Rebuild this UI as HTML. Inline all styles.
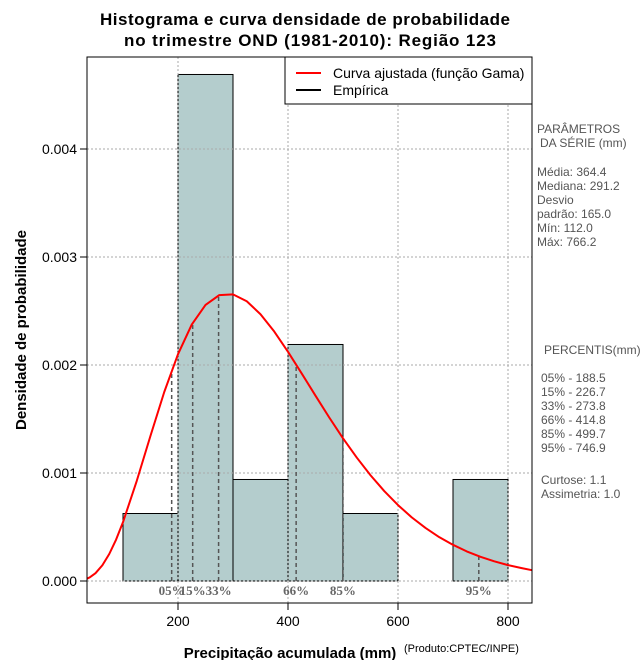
<!DOCTYPE html>
<html><head><meta charset="utf-8"><style>
body{margin:0;background:#fff;width:640px;height:660px;overflow:hidden}
svg{font-family:"Liberation Sans",sans-serif}
</style></head><body>
<svg id="c" width="640" height="660" xmlns="http://www.w3.org/2000/svg">
<text x="305" y="25" text-anchor="middle" font-size="17" font-weight="bold" textLength="410">Histograma e curva densidade de probabilidade</text>
<text x="310" y="46" text-anchor="middle" font-size="17" font-weight="bold" textLength="372">no trimestre OND (1981-2010): Região 123</text>
<g id="grid"></g>
<g id="bars"></g>
<g id="gridTop"></g>
<g id="pct"></g>
<g id="curve"></g>
<rect x="87" y="57" width="445" height="546" fill="none" stroke="#000"/>
<g id="axes"></g>
<g>
<rect x="285" y="57" width="247" height="47" fill="#fff" stroke="#000"/>
<line x1="296" y1="73" x2="321" y2="73" stroke="#f00" stroke-width="2"/>
<text x="333" y="78" font-size="14">Curva ajustada (função Gama)</text>
<line x1="296" y1="90" x2="321" y2="90" stroke="#000" stroke-width="2"/>
<text x="333" y="95" font-size="14">Empírica</text>
</g>
<text x="290" y="658" text-anchor="middle" font-size="15" font-weight="bold">Precipitação acumulada (mm)</text>
<text x="404" y="652" font-size="11">(Produto:CPTEC/INPE)</text>
<text transform="translate(26,330) rotate(-90)" text-anchor="middle" font-size="15" font-weight="bold">Densidade de probabilidade</text>
<g font-size="12" fill="#555" style="white-space:pre">
<text x="537" y="133">PARÂMETROS</text><text x="540" y="147">DA SÉRIE (mm)</text>
<text x="537" y="176">Média:  364.4</text><text x="537" y="190">Mediana:  291.2</text>
<text x="537" y="204">Desvio</text><text x="537" y="218">padrão:  165.0</text>
<text x="537" y="232">Mín:  112.0</text><text x="537" y="246">Máx:  766.2</text>
<text x="544" y="354">PERCENTIS(mm)</text>
<text x="541" y="382">05% -  188.5</text><text x="541" y="396">15% -  226.7</text>
<text x="541" y="410">33% -  273.8</text><text x="541" y="424">66% -  414.8</text>
<text x="541" y="438">85% -  499.7</text><text x="541" y="452">95% -  746.9</text>
<text x="541" y="484">Curtose:  1.1</text><text x="541" y="498">Assimetria:  1.0</text>
</g>
</svg>
<script>
const binStarts=[100,200,300,400,500,600,700];
const binDensity=[0.000625,0.00469,0.00094,0.00219,0.000625,0,0.00094];
const curveX=[34.5,40,50,62.5,75,87.5,100,125,150,175,200,225,250,275,300,325,350,375,400,425,450,475,500,525,550,575,600,625,650,675,700,725,750,775,800,825,843.6];
const curveY=[0.0000212,0.0000349,0.0000724,0.000146,0.00025,0.000384,0.000545,0.000927,0.001345,0.00175,0.0021,0.002374,0.002556,0.002647,0.002654,0.00259,0.00247,0.00231,0.002122,0.001921,0.001716,0.001514,0.001321,0.001143,0.000979,0.000833,0.000703,0.000589,0.000491,0.000406,0.000335,0.000274,0.000224,0.000182,0.000147,0.000119,0.0001];
const pctLabels=["05%","15%","33%","66%","85%","95%"];
const pctValues=[188.5,226.7,273.8,414.8,499.7,746.9];
const xTicks=[200,400,600,800];
const yTicks=[0,0.001,0.002,0.003,0.004];
const yTickLabels=["0.000","0.001","0.002","0.003","0.004"];
const binWidth=100;
const X=v=>68+v*0.55, Y=v=>581-v*108000;
const NS="http://www.w3.org/2000/svg";
function mk(p,t,a){const e=document.createElementNS(NS,t);for(const k in a)e.setAttribute(k,a[k]);document.getElementById(p).appendChild(e);return e;}
function interp(x){for(let i=0;i<curveX.length-1;i++){if(x>=curveX[i]&&x<=curveX[i+1]){const t=(x-curveX[i])/(curveX[i+1]-curveX[i]);return curveY[i]+t*(curveY[i+1]-curveY[i]);}}return 0;}
xTicks.forEach(v=>{const g=mk('gridTop','line',{x1:X(v),x2:X(v),y1:57,y2:603,stroke:'#aaa','stroke-dasharray':'2,2'});

});
yTicks.forEach(v=>{const g=mk('gridTop','line',{x1:87,x2:532,y1:Y(v),y2:Y(v),stroke:'#aaa','stroke-dasharray':'2,2'});

});
binStarts.forEach((s,i)=>{if(binDensity[i]<=0)return;const r=mk('bars','rect',{x:X(s),y:Y(binDensity[i]),width:X(s+binWidth)-X(s),height:Y(0)-Y(binDensity[i]),fill:'#b4cdcd',stroke:'#000'});

});
pctValues.forEach((v,i)=>{const l=mk('pct','line',{x1:X(v),x2:X(v),y1:Y(0),y2:Y(interp(v)),stroke:'#555','stroke-width':1.5,'stroke-dasharray':'4,3'});


const t=mk('pct','text',{x:X(v),y:595,'text-anchor':'middle','font-size':13,'font-weight':'bold','font-family':'Liberation Serif, serif',fill:'#666'});t.textContent=pctLabels[i];

});
const p=mk('curve','path',{d:curveX.map((x,i)=>(i?'L':'M')+X(x)+','+Y(curveY[i])).join(''),fill:'none',stroke:'#f00','stroke-width':2,'stroke-linejoin':'round'});


xTicks.forEach(v=>{mk('axes','line',{x1:X(v),x2:X(v),y1:603,y2:610,stroke:'#000'});const t=mk('axes','text',{x:X(v),y:626,'text-anchor':'middle','font-size':14});t.textContent=v;

});
yTicks.forEach((v,i)=>{mk('axes','line',{x1:80,x2:87,y1:Y(v),y2:Y(v),stroke:'#000'});const t=mk('axes','text',{x:77,y:Y(v)+5,'text-anchor':'end','font-size':14});t.textContent=yTickLabels[i];

});
</script>
</body></html>
